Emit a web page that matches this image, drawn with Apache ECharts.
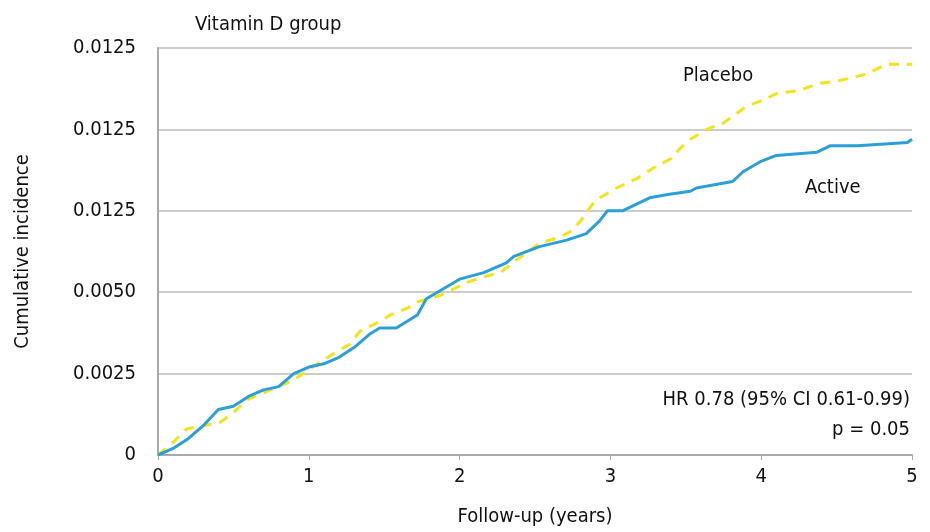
<!DOCTYPE html>
<html>
<head>
<meta charset="utf-8">
<title>Vitamin D group</title>
<script src="https://cdn.jsdelivr.net/npm/echarts@6/dist/echarts.min.js"></script>
<style>
  html, body { margin: 0; padding: 0; background: #fff; }
  #chart { width: 930px; height: 532px; }
</style>
</head>
<body>
<div id="chart"></div>
<script>
// follow-up times (years) and cumulative incidence
const activeT = [0, 0.1, 0.2, 0.3, 0.4, 0.5, 0.6, 0.7, 0.8, 0.9, 1.0, 1.1, 1.2, 1.3, 1.4, 1.47, 1.58, 1.72, 1.78, 2.0, 2.16, 2.31, 2.36, 2.53, 2.71, 2.84, 2.93, 2.98, 3.08, 3.26, 3.38, 3.53, 3.57, 3.81, 3.88, 3.99, 4.1, 4.37, 4.46, 4.64, 4.97, 5.0];
const activeV = [0, 0.0002, 0.0005, 0.0009, 0.0014, 0.0015, 0.0018, 0.002, 0.0021, 0.0025, 0.0027, 0.0028, 0.003, 0.0033, 0.0037, 0.0039, 0.0039, 0.0043, 0.0048, 0.0054, 0.0056, 0.0059, 0.0061, 0.0064, 0.0066, 0.0068, 0.0072, 0.0075, 0.0075, 0.0079, 0.008, 0.0081, 0.0082, 0.0084, 0.0087, 0.009, 0.0092, 0.0093, 0.0095, 0.0095, 0.0096, 0.0097];

const placeboT = [0, 0.11, 0.19, 0.41, 0.5, 0.59, 0.9, 0.99, 1.16, 1.27, 1.34, 1.47, 1.54, 1.65, 1.72, 1.87, 2.05, 2.18, 2.27, 2.38, 2.53, 2.67, 2.75, 2.82, 2.88, 2.93, 3.04, 3.18, 3.28, 3.4, 3.46, 3.53, 3.64, 3.75, 3.81, 3.9, 4.01, 4.1, 4.26, 4.37, 4.52, 4.7, 4.83, 5.0];
const placeboV = [0, 0.00043, 0.0008, 0.001, 0.0013, 0.0017, 0.0023, 0.0026, 0.0031, 0.0034, 0.0038, 0.0041, 0.0043, 0.0045, 0.0047, 0.0049, 0.0053, 0.0055, 0.0056, 0.006, 0.0065, 0.0067, 0.0069, 0.0073, 0.0077, 0.0079, 0.0082, 0.0085, 0.0088, 0.0091, 0.0094, 0.0097, 0.01, 0.0102, 0.0104, 0.0107, 0.0109, 0.0111, 0.0112, 0.0114, 0.0115, 0.0117, 0.012, 0.012];

// tick labels exactly as printed on the original
const yTickLabels = ['0', '0.0025', '0.0050', '0.0125', '0.0125', '0.0125'];
const xTickLabels = ['0', '1', '2', '3', '4', '5'];

const FONT = '"Liberation Sans Narrow", "DejaVu Sans Condensed", "Roboto Condensed", sans-serif';
const INK = '#111';

const activeData = activeT.map((t, i) => [t, activeV[i]]);
const placeboData = placeboT.map((t, i) => [t, placeboV[i]]);

const chart = echarts.init(document.getElementById('chart'));

const option = {
  backgroundColor: '#fff',
  animation: false,
  textStyle: { fontFamily: FONT, color: INK },
  grid: { left: 158, right: 18, top: 48, bottom: 75 },
  title: {
    text: 'Vitamin D group',
    left: 190, top: 10,
    textStyle: { fontFamily: FONT, fontSize: 20, fontWeight: 'normal', color: INK }
  },
  xAxis: {
    type: 'value',
    min: 0, max: 5, interval: 1,
    name: 'Follow-up (years)',
    nameLocation: 'middle',
    nameGap: 52,
    nameTextStyle: { fontFamily: FONT, fontSize: 20, color: INK },
    axisLine: { show: true, lineStyle: { color: '#aaa', width: 2 } },
    axisTick: { show: true, length: 5, lineStyle: { color: '#aaa', width: 1 } },
    axisLabel: {
      fontFamily: FONT, fontSize: 20, color: INK, margin: 12,
      formatter: (v) => xTickLabels[Math.round(v)]
    },
    splitLine: { show: false }
  },
  yAxis: {
    type: 'value',
    min: 0, max: 0.0125, interval: 0.0025,
    name: 'Cumulative incidence',
    nameLocation: 'middle',
    nameGap: 125,
    nameRotate: 90,
    nameTextStyle: { fontFamily: FONT, fontSize: 20, color: INK },
    axisLine: { show: true, lineStyle: { color: '#aaa', width: 2 } },
    axisTick: { show: false },
    axisLabel: {
      fontFamily: FONT, fontSize: 20, color: INK, margin: 22,
      formatter: (v) => yTickLabels[Math.round(v / 0.0025)]
    },
    splitLine: { show: true, lineStyle: { color: '#bbb', width: 1.5 } }
  },
  series: [
    {
      name: 'Placebo',
      type: 'line',
      data: placeboData,
      symbol: 'none',
      lineStyle: { color: '#f2e31b', width: 3, type: [10, 8] },
      z: 2
    },
    {
      name: 'Active',
      type: 'line',
      data: activeData,
      symbol: 'none',
      lineStyle: { color: '#2c9fd9', width: 3 },
      z: 3
    }
  ],
  graphic: [
    { type: 'text', left: 683, top: 66,
      style: { text: 'Placebo', font: '20px ' + FONT, fill: INK } },
    { type: 'text', left: 805, top: 178,
      style: { text: 'Active', font: '20px ' + FONT, fill: INK } },
    { type: 'text', right: 20, top: 390,
      style: { text: 'HR 0.78 (95% CI 0.61-0.99)', font: '20px ' + FONT, fill: INK, align: 'right' } },
    { type: 'text', right: 20, top: 420,
      style: { text: 'p = 0.05', font: '20px ' + FONT, fill: INK, align: 'right' } }
  ]
};

chart.setOption(option);
window.addEventListener('resize', () => chart.resize());
</script>
</body>
</html>
